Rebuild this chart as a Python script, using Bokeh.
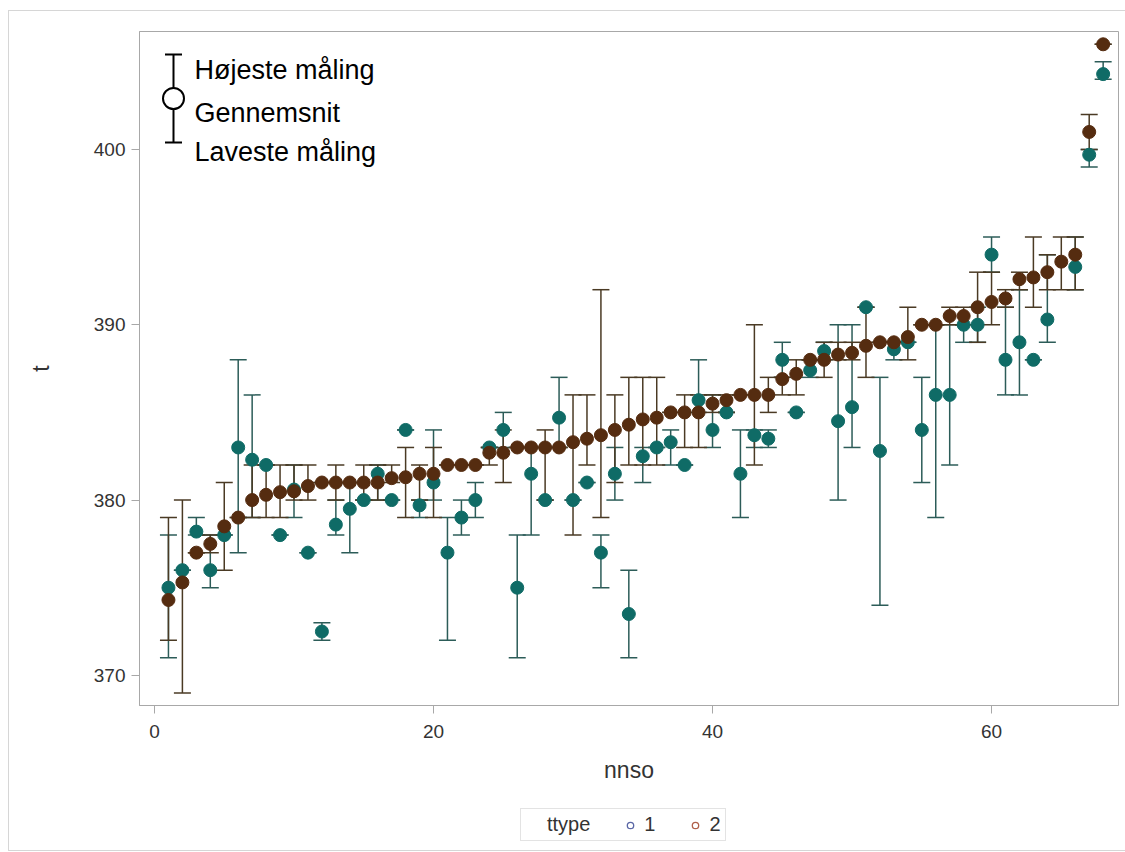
from bokeh.plotting import figure
from bokeh.models import Range1d, FixedTicker, Label, Legend, LegendItem, Spacer
from bokeh.layouts import row, column
from bokeh.embed import file_html
from bokeh.resources import INLINE

# ---- data ----
nnso_2 = list(range(1, 69))
mean_2 = [374.3, 375.3, 377.0, 377.5, 378.5, 379.0, 380.0, 380.3, 380.45, 380.5,
          380.8, 381.0, 381.0, 381.0, 381.0, 381.0, 381.25, 381.3, 381.5, 381.5,
          382.0, 382.0, 382.0, 382.7, 382.7, 383.0, 383.0, 383.0, 383.0, 383.3,
          383.5, 383.7, 384.0, 384.3, 384.6, 384.7, 385.0, 385.0, 385.0, 385.5,
          385.7, 386.0, 386.0, 386.0, 386.9, 387.2, 388.0, 388.0, 388.3, 388.4,
          388.8, 389.0, 389.0, 389.3, 390.0, 390.0, 390.5, 390.5, 391.0, 391.3,
          391.5, 392.6, 392.7, 393.0, 393.6, 394.0, 401.0, 406.0]
min_2 = [372, 369, 377, 377, 376, 379, 379, 379, 379, 380,
         380, 381, 380, 381, 380, 380, 381, 379, 380, 379,
         382, 382, 382, 382, 381, 383, 383, 380, 383, 378,
         382, 379, 381, 382, 382, 382, 385, 383, 383, 385,
         385, 386, 382, 385, 386, 386, 388, 387, 388, 388,
         387, 389, 389, 388, 390, 390, 390, 390, 389, 390,
         391, 392, 391, 392, 392, 392, 400, 406]
max_2 = [379, 380, 377, 378, 381, 379, 382, 382, 382, 382,
         382, 381, 382, 381, 382, 382, 382, 383, 382, 383,
         382, 382, 382, 383, 384, 383, 383, 384, 383, 386,
         386, 392, 386, 387, 387, 387, 385, 386, 386, 386,
         386, 386, 390, 387, 387, 388, 388, 389, 389, 389,
         391, 389, 389, 391, 390, 390, 391, 391, 393, 393,
         392, 393, 395, 394, 395, 395, 402, 406]

nnso_1 = list(range(1, 65)) + [66, 67, 68]
mean_1 = [375.0, 376.0, 378.2, 376.0, 378.0, 383.0, 382.3, 382.0, 378.0, 380.6,
          377.0, 372.5, 378.6, 379.5, 380.0, 381.5, 380.0, 384.0, 379.7, 381.0,
          377.0, 379.0, 380.0, 383.0, 384.0, 375.0, 381.5, 380.0, 384.7, 380.0,
          381.0, 377.0, 381.5, 373.5, 382.5, 383.0, 383.3, 382.0, 385.7, 384.0,
          385.0, 381.5, 383.7, 383.5, 388.0, 385.0, 387.4, 388.5, 384.5, 385.3,
          391.0, 382.8, 388.6, 389.0, 384.0, 386.0, 386.0, 390.0, 390.0, 394.0,
          388.0, 389.0, 388.0, 390.3, 393.3, 399.7, 404.3]
min_1 = [371, 376, 378, 375, 378, 377, 379, 382, 378, 379,
         377, 372, 378, 377, 380, 380, 380, 384, 379, 380,
         372, 378, 379, 383, 383, 371, 378, 380, 383, 380,
         381, 375, 380, 371, 381, 383, 382, 382, 385, 383,
         385, 379, 383, 383, 387, 385, 387, 388, 380, 383,
         391, 374, 388, 389, 381, 379, 382, 389, 389, 393,
         386, 386, 388, 389, 392, 399, 404]
max_1 = [378, 376, 379, 378, 378, 388, 386, 382, 378, 382,
         377, 373, 380, 381, 380, 382, 380, 384, 380, 384,
         379, 380, 381, 383, 385, 378, 383, 380, 387, 380,
         381, 378, 383, 376, 383, 383, 384, 382, 388, 386,
         385, 384, 384, 384, 389, 385, 388, 389, 390, 390,
         391, 387, 389, 389, 387, 390, 390, 390, 391, 395,
         391, 392, 388, 394, 395, 400, 405]

x_ticks = [0, 20, 40, 60]
y_ticks = [370, 380, 390, 400]
legend_title = "ttype"
legend_labels = ["1", "2"]
key_texts = ["Højeste måling", "Gennemsnit", "Laveste måling"]

# ---- styling ----
TEAL = "#0f6b66"
BROWN = "#552c10"
TEAL_BAR = "#2c5c58"
BROWN_BAR = "#4a3a24"
FONT = "Liberation Sans"
GRAY = "#a8a8a8"
TXT = "#333333"

X0, X1 = -1.075, 69.1
Y0, Y1 = 368.28, 406.73
FL, FR, FT, FB = 138, 1117, 30, 704   # frame edges in page pixels
TOP_H = 790                            # main figure: page y 10..800

p = figure(width=1117, height=TOP_H, x_range=Range1d(X0, X1), y_range=Range1d(Y0, Y1),
           output_backend="svg", toolbar_location=None,
           min_border_left=130, min_border_right=8, min_border_top=20,
           min_border_bottom=10 + TOP_H - FB)
p.background_fill_color = "white"
p.border_fill_color = "white"
p.outline_line_color = GRAY
p.outline_line_width = 1
p.xgrid.visible = False
p.ygrid.visible = False

for ax in (p.xaxis[0], p.yaxis[0]):
    ax.axis_line_color = GRAY
    ax.major_tick_line_color = GRAY
    ax.major_tick_out = 8
    ax.major_tick_in = 0
    ax.minor_tick_line_color = None
    ax.major_label_text_font = FONT
    ax.major_label_text_font_size = "19px"
    ax.major_label_text_color = TXT
    ax.axis_label_text_font = FONT
    ax.axis_label_text_font_size = "23px"
    ax.axis_label_text_font_style = "normal"
    ax.axis_label_text_color = TXT

p.xaxis.ticker = FixedTicker(ticks=x_ticks)
p.yaxis.ticker = FixedTicker(ticks=y_ticks)
p.xaxis.axis_label = "nnso"
p.yaxis.axis_label = "t"
p.xaxis.major_label_standoff = 11
p.yaxis.major_label_standoff = 6
p.xaxis.axis_label_standoff = 16
p.yaxis.axis_label_standoff = 37

# ---- error bars ----
for xs, lo, hi, col in ((nnso_1, min_1, max_1, TEAL_BAR), (nnso_2, min_2, max_2, BROWN_BAR)):
    p.segment(x0=xs, y0=lo, x1=xs, y1=hi, line_color=col, line_width=1.5)
    p.scatter(x=xs, y=lo, marker="dash", size=17, line_color=col, line_width=1.5)
    p.scatter(x=xs, y=hi, marker="dash", size=17, line_color=col, line_width=1.5)

# ---- means ----
p.scatter(x=nnso_1, y=mean_1, marker="circle", size=13, fill_color=TEAL, line_color=TEAL)
p.scatter(x=nnso_2, y=mean_2, marker="circle", size=13, fill_color=BROWN, line_color=BROWN)

# ---- key (top left) ----
def px_x(px):
    return X0 + (px - FL) / (FR - FL) * (X1 - X0)

def px_y(py):
    return Y1 - (py - FT) / (FB - FT) * (Y1 - Y0)

kx = px_x(172)
p.segment(x0=[kx], y0=[px_y(53)], x1=[kx], y1=[px_y(141)], line_color="black", line_width=2)
p.scatter(x=[kx, kx], y=[px_y(53), px_y(141)], marker="dash", size=17, line_color="black", line_width=2)
p.scatter(x=[kx], y=[px_y(97)], marker="circle", size=21, fill_color="white", line_color="black", line_width=2)
for txt, base in zip(key_texts, (68, 111, 150)):
    p.add_layout(Label(x=px_x(193), y=px_y(base), text=txt, text_font=FONT,
                       text_font_size="27px", text_color="black", text_baseline="alphabetic"))

# ---- ttype legend, in its own strip below the main figure ----
LEG_H = 49   # page y 800..849
p2 = figure(width=1117, height=LEG_H, x_range=Range1d(X0, X1), y_range=Range1d(Y0, Y1),
            x_axis_type=None, y_axis_type=None, output_backend="svg", toolbar_location=None,
            min_border=0)
p2.outline_line_color = None
p2.background_fill_color = "white"
p2.border_fill_color = "white"

r0 = p2.scatter(x=nnso_1, y=mean_1, marker="circle", size=9, fill_alpha=0, line_alpha=0, visible=False)
r1 = p2.scatter(x=nnso_1, y=mean_1, marker="circle", size=9, fill_color=None,
                line_color="#5a67a6", line_width=1.3, visible=False)
r2 = p2.scatter(x=nnso_2, y=mean_2, marker="circle", size=9, fill_color=None,
                line_color="#b0604a", line_width=1.3, visible=False)
leg = Legend(items=[LegendItem(label=legend_title, renderers=[r0]),
                    LegendItem(label=legend_labels[0], renderers=[r1]),
                    LegendItem(label=legend_labels[1], renderers=[r2])],
             orientation="horizontal", location=(519 - FL, 849 - 840))
leg.inactive_fill_alpha = 0
leg.label_text_font = FONT
leg.label_text_font_size = "20px"
leg.label_text_color = TXT
leg.border_line_color = "#c8c8c8"
leg.background_fill_color = "white"
leg.background_fill_alpha = 1
leg.glyph_width = 16
leg.glyph_height = 16
leg.label_height = 20
leg.label_width = 10
leg.label_standoff = 6
leg.spacing = 32
leg.padding = 4
leg.margin = 0
p2.add_layout(leg)

inner = column(p, p2, styles={"border": "1px solid #d6d6d6"})
layout = column(Spacer(height=10), row(Spacer(width=8), inner))
open("out.html", "w").write(file_html(layout, INLINE))
